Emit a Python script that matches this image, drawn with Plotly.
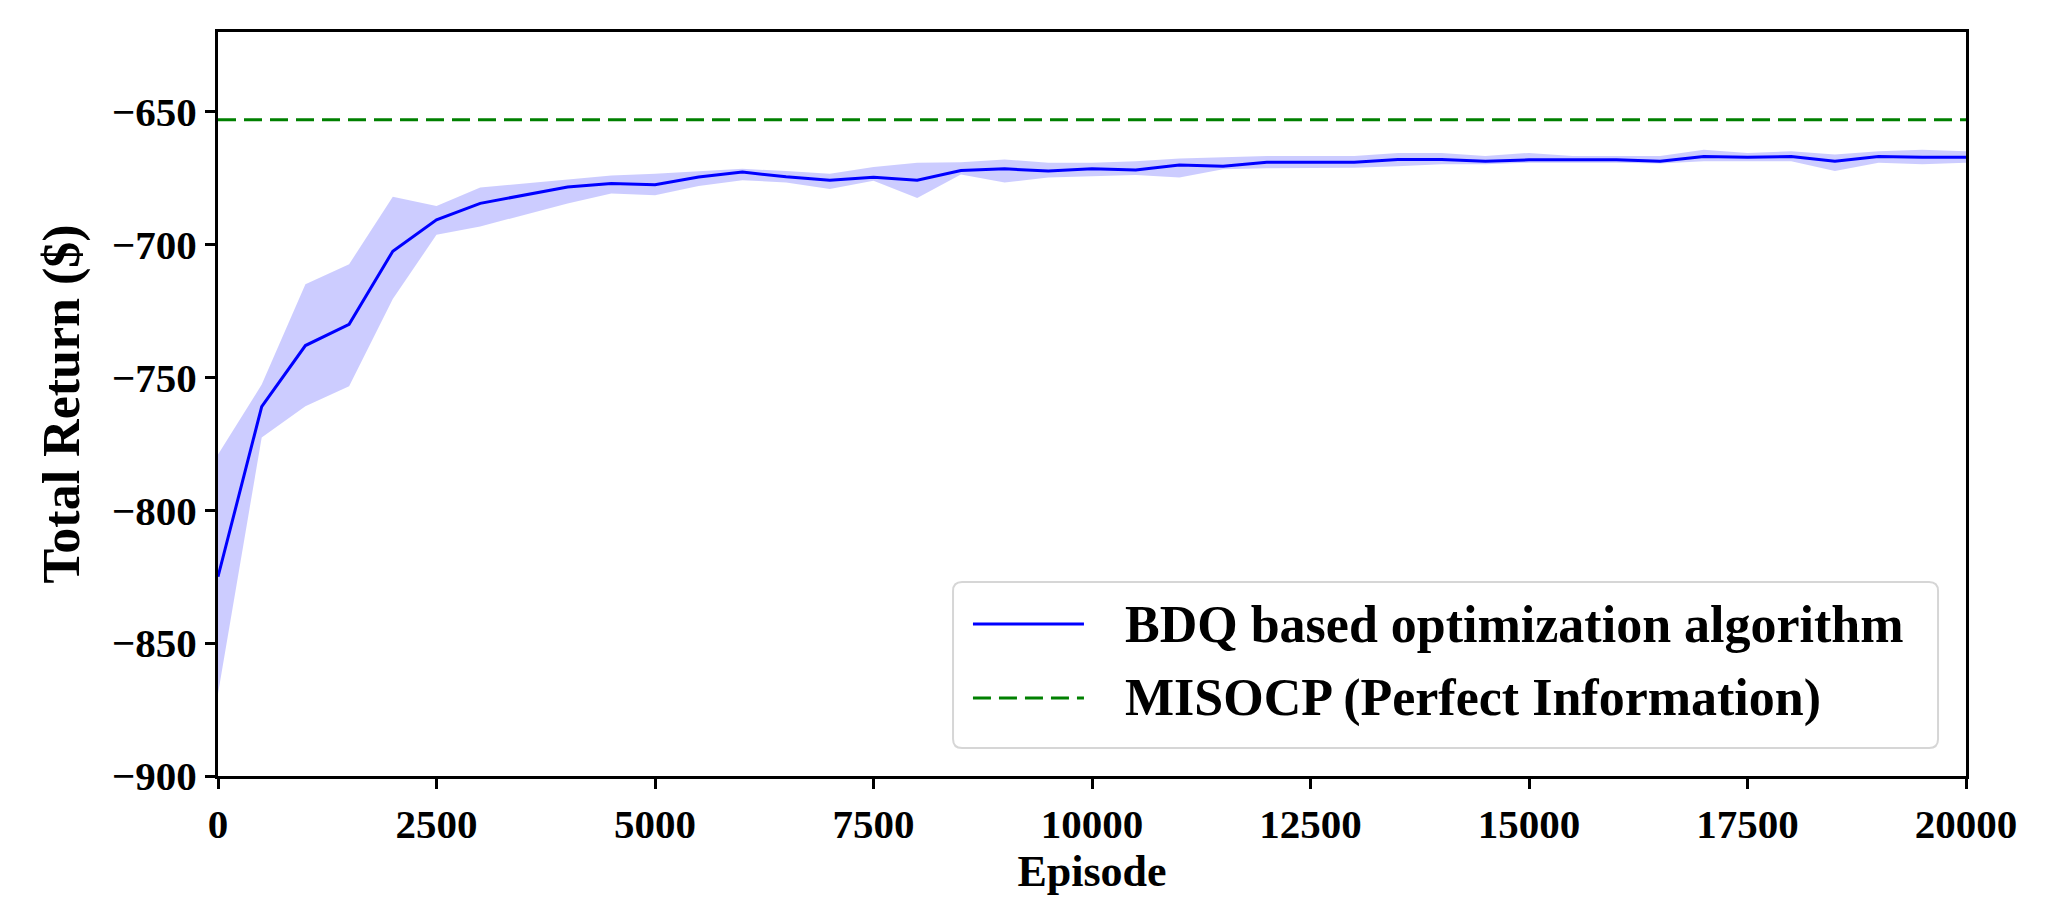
import plotly.graph_objects as go

episodes = [0, 500, 1000, 1500, 2000, 2500, 3000, 3500, 4000, 4500, 5000,
            5500, 6000, 6500, 7000, 7500, 8000, 8500, 9000, 9500, 10000,
            10500, 11000, 11500, 12000, 12500, 13000, 13500, 14000, 14500, 15000,
            15500, 16000, 16500, 17000, 17500, 18000, 18500, 19000, 19500, 20000]

bdq_mean = [-825.0, -761.0, -738.0, -730.0, -702.5, -690.7, -684.5, -681.4, -678.3, -677.0, -677.5,
            -674.6, -672.7, -674.5, -675.8, -674.7, -675.8, -672.1, -671.5, -672.3, -671.5,
            -671.9, -670.1, -670.5, -669.0, -669.0, -669.0, -668.0, -668.0, -668.6, -668.1,
            -668.1, -668.1, -668.6, -666.9, -667.1, -666.9, -668.6, -666.9, -667.1, -667.1]

bdq_upper = [-779.0, -752.7, -714.9, -707.4, -682.0, -685.5, -678.5, -677.0, -675.5, -674.0, -673.3,
             -672.5, -671.5, -672.3, -673.3, -670.8, -669.2, -669.0, -668.0, -669.2, -669.2,
             -668.6, -667.6, -667.1, -666.7, -666.7, -666.7, -665.5, -665.5, -666.7, -665.5,
             -666.7, -666.7, -666.7, -664.3, -665.5, -664.9, -666.1, -664.9, -664.3, -664.9]

bdq_lower = [-869.0, -772.6, -760.8, -753.3, -720.5, -696.3, -693.2, -688.8, -684.5, -680.8, -681.4,
             -678.0, -675.8, -676.6, -679.1, -676.0, -682.5, -673.6, -676.6, -674.8, -674.2,
             -673.8, -674.8, -671.7, -671.3, -671.3, -671.1, -670.5, -669.8, -669.8, -669.2,
             -669.2, -669.2, -669.5, -668.6, -668.6, -668.6, -672.3, -669.2, -669.8, -669.2]

misocp_x = [0, 20000]
misocp_value = -653.0

y_ticks = [-900, -850, -800, -750, -700, -650]
x_ticks = [0, 2500, 5000, 7500, 10000, 12500, 15000, 17500, 20000]

legend_labels = ["BDQ based optimization algorithm", "MISOCP (Perfect Information)"]
x_title = "Episode"
y_title = "Total Return ($)"

FONT = "Liberation Serif"
BLUE = "#0000ff"
GREEN = "#008000"
DASH = "18px,8px"

fig = go.Figure()

fig.add_trace(go.Scatter(
    x=episodes, y=bdq_upper, mode="lines", line=dict(width=0, color="rgba(0,0,255,0)"),
    showlegend=False, hoverinfo="skip"))
fig.add_trace(go.Scatter(
    x=episodes, y=bdq_lower, mode="lines", line=dict(width=0, color="rgba(0,0,255,0)"),
    fill="tonexty", fillcolor="rgba(0,0,255,0.2)", showlegend=False, hoverinfo="skip"))
fig.add_trace(go.Scatter(
    x=episodes, y=bdq_mean, mode="lines", name=legend_labels[0],
    line=dict(color=BLUE, width=3), showlegend=False))
fig.add_trace(go.Scatter(
    x=misocp_x, y=[misocp_value] * len(misocp_x), mode="lines",
    name=legend_labels[1], showlegend=False,
    line=dict(color=GREEN, width=3, dash=DASH)))

axis_common = dict(
    showline=True, linecolor="black", linewidth=3, mirror=True,
    ticks="outside", ticklen=10, tickwidth=3, tickcolor="black",
    showgrid=False, zeroline=False, automargin=False,
    tickfont=dict(family=FONT, size=41, color="black", weight="bold"),
)

fig.update_xaxes(
    range=[0, 20000], tickvals=x_ticks, ticktext=[str(v) for v in x_ticks],
    title=dict(text=x_title, font=dict(family=FONT, size=44, color="black", weight="bold"),
               standoff=3),
    **axis_common)
fig.update_yaxes(
    range=[-900, -620], tickvals=y_ticks,
    title=dict(text=y_title, font=dict(family=FONT, size=52, color="black", weight="bold"),
               standoff=16),
    **axis_common)

# Legend box (matplotlib-style, rounded corners), in plot-area (paper) coordinates
PW, PH = 1748.0, 744.0
bx0, bx1 = 0.4205, 0.984
by0, by1 = 0.0376, 0.2608
rx, ry = 9 / PW, 9 / PH
box_path = (
    f"M {bx0+rx},{by0} L {bx1-rx},{by0} Q {bx1},{by0} {bx1},{by0+ry} "
    f"L {bx1},{by1-ry} Q {bx1},{by1} {bx1-rx},{by1} "
    f"L {bx0+rx},{by1} Q {bx0},{by1} {bx0},{by1-ry} "
    f"L {bx0},{by0+ry} Q {bx0},{by0} {bx0+rx},{by0} Z"
)
fig.add_shape(type="path", path=box_path, xref="paper", yref="paper",
              line=dict(color="#d6d6d6", width=2), fillcolor="rgba(255,255,255,0.8)",
              layer="above")

row_y = [0.2043, 0.1048]
styles = [dict(color=BLUE, width=3), dict(color=GREEN, width=3, dash=DASH)]
for yy, lbl, st in zip(row_y, legend_labels, styles):
    fig.add_shape(type="line", xref="paper", yref="paper",
                  x0=0.4319, x1=0.4954, y0=yy, y1=yy, line=st, layer="above")
    fig.add_annotation(xref="paper", yref="paper", x=0.5177, y=yy,
                       xanchor="left", yanchor="middle", showarrow=False,
                       text=lbl, font=dict(family=FONT, size=52, color="black", weight="bold"))

fig.update_layout(
    width=2050, height=900,
    margin=dict(l=210, r=92, t=24, b=132, autoexpand=False),
    plot_bgcolor="white", paper_bgcolor="white",
    showlegend=False,
)

fig.write_html("out.html")
